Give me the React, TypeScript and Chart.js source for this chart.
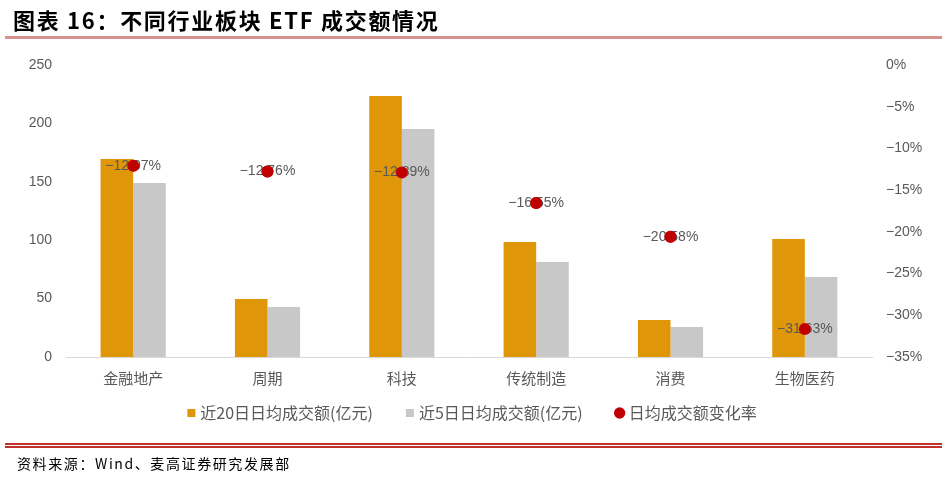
import React, { useEffect, useRef } from 'react';
import { Chart, registerables } from 'chart.js';

Chart.register(...registerables);

const categories = ['金融地产', '周期', '科技', '传统制造', '消费', '生物医药'];
const avg20 = [169.5, 49.7, 223.5, 98.5, 31.7, 101];
const avg5 = [149, 42.8, 195.2, 81.3, 25.7, 68.5];
const changeRate = [-12.07, -12.76, -12.89, -16.55, -20.58, -31.63];
const seriesNames = ['近20日日均成交额(亿元)', '近5日日均成交额(亿元)', '日均成交额变化率'];
const leftTicks = [0, 50, 100, 150, 200, 250];
const rightTicks = [0, -5, -10, -15, -20, -25, -30, -35];
const titleText = '图表 16：不同行业板块 ETF 成交额情况';
const sourceText = '资料来源：Wind、麦高证券研究发展部';

const ORANGE = '#df9608';
const GRAY = '#c8c8c8';
const RED = '#c00000';
const TEXT = '#595959';

const fmtPct = (v: number, digits = 0) =>
  (v < 0 ? '\u2212' : '') + Math.abs(v).toFixed(digits) + '%';

const labelPlugin = {
  id: 'rateLabels',
  afterLayout(chart: any) {
    const lg = chart.legend;
    if (lg) {
      lg.top -= 20;
      lg.bottom -= 20;
    }
  },
  afterDatasetsDraw(chart: any) {
    const meta = chart.getDatasetMeta(2);
    const ctx = chart.ctx;
    ctx.save();
    ctx.font = '14px "Liberation Sans", Arial, sans-serif';
    ctx.fillStyle = TEXT;
    ctx.textAlign = 'center';
    ctx.textBaseline = 'middle';
    meta.data.forEach((pt: any, i: number) => {
      ctx.fillText(fmtPct(changeRate[i], 2), pt.x, pt.y);
    });
    ctx.restore();
    meta.controller.draw();
  },
};

export default function App() {
  const ref = useRef<HTMLCanvasElement | null>(null);

  useEffect(() => {
    document.body.style.margin = '0';
    const canvas = ref.current;
    if (!canvas) return;
    const chart = new Chart(canvas, {
      type: 'bar',
      data: {
        labels: categories,
        datasets: [
          {
            type: 'bar',
            label: seriesNames[0],
            data: avg20,
            backgroundColor: ORANGE,
            borderWidth: 0,
            pointStyle: 'rect',
            yAxisID: 'y',
            categoryPercentage: 0.485,
            barPercentage: 1,
          } as any,
          {
            type: 'bar',
            label: seriesNames[1],
            data: avg5,
            backgroundColor: GRAY,
            borderWidth: 0,
            pointStyle: 'rect',
            yAxisID: 'y',
            categoryPercentage: 0.485,
            barPercentage: 1,
          } as any,
          {
            type: 'line',
            label: seriesNames[2],
            data: changeRate,
            showLine: false,
            backgroundColor: RED,
            borderColor: RED,
            pointBackgroundColor: RED,
            pointBorderColor: RED,
            pointRadius: 6,
            pointBorderWidth: 0,
            pointStyle: 'circle',
            yAxisID: 'y1',
          } as any,
        ],
      },
      options: {
        responsive: false,
        animation: false,
        devicePixelRatio: 1,
        events: [],
        layout: { padding: { top: 65, bottom: 34, left: 0, right: 0 } },
        plugins: {
          tooltip: { enabled: false },
          legend: {
            position: 'bottom',
            labels: {
              usePointStyle: true,
              boxWidth: 2,
              boxHeight: 8,
              padding: 36,
              color: TEXT,
              font: { family: '"Noto Sans CJK SC", sans-serif', size: 16 },
            },
          },
        },
        scales: {
          x: {
            grid: { display: false, drawTicks: false },
            border: { display: true, color: '#d9d9d9', width: 1 },
            ticks: {
              color: TEXT,
              padding: 12,
              font: { family: '"Noto Sans CJK SC", sans-serif', size: 15 },
            },
            afterFit(scale: any) {
              scale.height = 32;
            },
          },
          y: {
            position: 'left',
            min: 0,
            max: 250,
            grid: { display: false, drawTicks: false },
            border: { display: false },
            afterBuildTicks(scale: any) {
              scale.ticks = leftTicks.map((v) => ({ value: v }));
            },
            ticks: {
              color: TEXT,
              padding: 14,
              font: { family: '"Liberation Sans", Arial, sans-serif', size: 14 },
            },
            afterFit(scale: any) {
              scale.width = 66;
            },
          },
          y1: {
            position: 'right',
            min: -35,
            max: 0,
            grid: { display: false, drawTicks: false },
            border: { display: false },
            afterBuildTicks(scale: any) {
              scale.ticks = rightTicks.map((v) => ({ value: v }));
            },
            ticks: {
              color: TEXT,
              padding: 14,
              font: { family: '"Liberation Sans", Arial, sans-serif', size: 14 },
              callback: (v: any) => fmtPct(Number(v)),
            },
            afterFit(scale: any) {
              scale.width = 75;
            },
          },
        },
      } as any,
      plugins: [labelPlugin],
    });
    return () => chart.destroy();
  }, []);

  return (
    <div
      style={{
        position: 'absolute',
        left: 0,
        top: 0,
        width: 947,
        height: 485,
        background: '#fff',
        overflow: 'hidden',
      }}
    >
      <canvas
        ref={ref}
        width={947}
        height={485}
        style={{ position: 'absolute', left: 0, top: 0, width: 947, height: 485 }}
      />
      <div
        style={{
          position: 'absolute',
          left: 13,
          top: 5,
          font: 'bold 22px "Noto Sans CJK SC", sans-serif',
          letterSpacing: '1.7px',
          lineHeight: '28px',
          color: '#000',
          whiteSpace: 'nowrap',
        }}
      >
        {titleText}
      </div>
      <div style={{ position: 'absolute', left: 5, top: 36, width: 937, height: 3, background: '#d8918d' }} />
      <div style={{ position: 'absolute', left: 5, top: 443, width: 937, height: 2, background: '#c0312e' }} />
      <div style={{ position: 'absolute', left: 5, top: 446, width: 937, height: 2, background: '#c0312e' }} />
      <div
        style={{
          position: 'absolute',
          left: 17,
          top: 453,
          font: '14px "Noto Sans CJK SC", sans-serif',
          letterSpacing: '1.6px',
          lineHeight: '20px',
          color: '#000',
          whiteSpace: 'nowrap',
        }}
      >
        {sourceText}
      </div>
    </div>
  );
}
